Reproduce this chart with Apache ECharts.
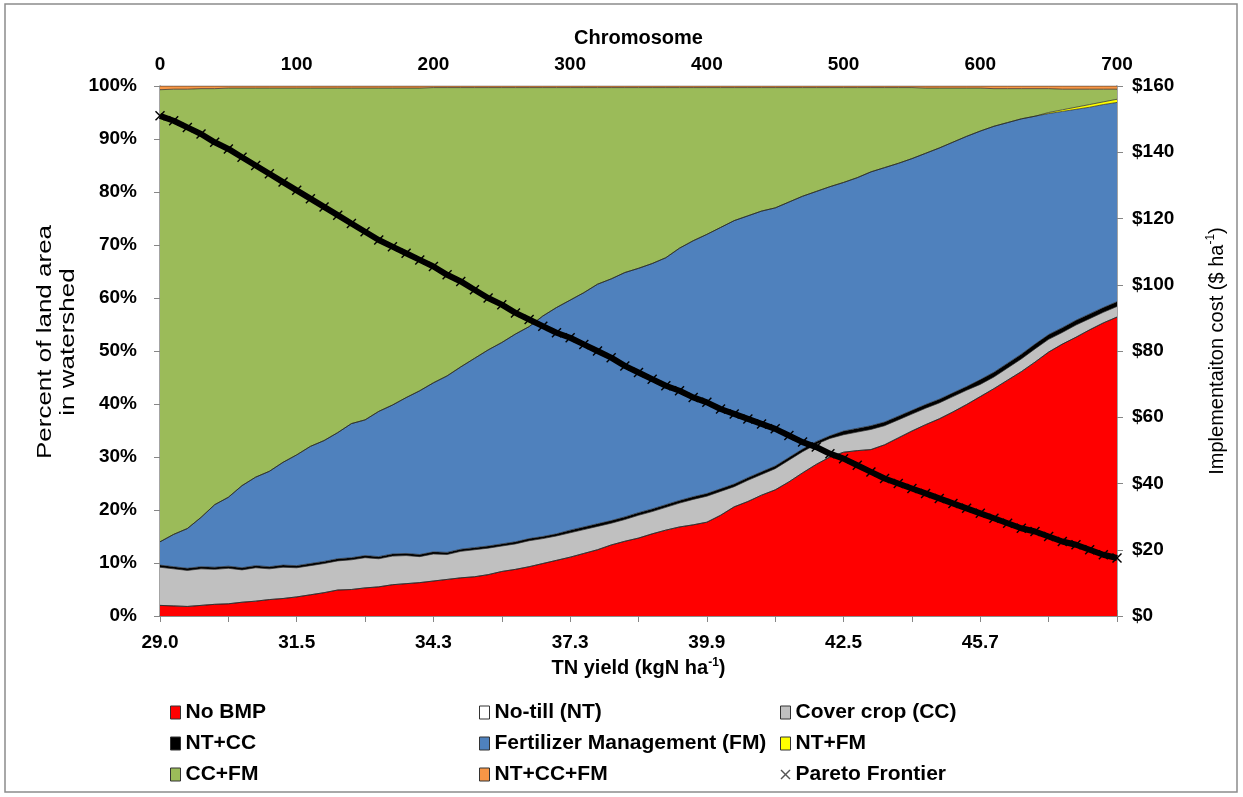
<!DOCTYPE html>
<html>
<head>
<meta charset="utf-8">
<title>BMP allocation along the Pareto frontier</title>
<script src="https://cdn.jsdelivr.net/npm/echarts@6/dist/echarts.min.js"></script>
<style>
  html, body { margin: 0; padding: 0; background: #fff; }
  #main { width: 1243px; height: 797px; }
</style>
</head>
<body>
<div id="main"></div>
<script>
// chromosome index (every 10th solution along the frontier)
var chromosome = [0, 10, 20, 30, 40, 50, 60, 70, 80, 90, 100, 110, 120, 130, 140, 150, 160, 170, 180, 190,
  200, 210, 220, 230, 240, 250, 260, 270, 280, 290, 300, 310, 320, 330, 340, 350, 360, 370, 380, 390,
  400, 410, 420, 430, 440, 450, 460, 470, 480, 490, 500, 510, 520, 530, 540, 550, 560, 570, 580, 590,
  600, 610, 620, 630, 640, 650, 660, 670, 680, 690, 700];

// TN yield labels shown under chromosome 0,100,...,600
var tnLabels = ['29.0', '31.5', '34.3', '37.3', '39.9', '42.5', '45.7'];

// percent of land area for each BMP
var noBMP = [2.0, 1.9, 1.8, 2.0, 2.2, 2.3, 2.6, 2.8, 3.1, 3.3, 3.6, 4.0, 4.4, 4.9, 5.0, 5.3, 5.5, 5.9, 6.1, 6.3,
  6.6, 6.9, 7.2, 7.4, 7.8, 8.4, 8.8, 9.3, 9.9, 10.5, 11.1, 11.8, 12.5, 13.4, 14.1, 14.7, 15.5, 16.2, 16.8, 17.2,
  17.7, 19.0, 20.6, 21.6, 22.8, 23.8, 25.3, 27.0, 28.6, 30.0, 30.9, 31.2, 31.4, 32.3, 33.6, 34.9, 36.1, 37.2, 38.5, 39.9,
  41.4, 42.9, 44.5, 46.1, 47.9, 49.8, 51.3, 52.6, 54.0, 55.3, 56.4];
var noTill = [0, 0, 0, 0, 0, 0, 0, 0, 0, 0, 0, 0, 0, 0, 0, 0, 0, 0, 0, 0,
  0, 0, 0, 0, 0, 0, 0, 0, 0, 0, 0, 0, 0, 0, 0, 0, 0, 0, 0, 0,
  0, 0, 0, 0, 0, 0, 0, 0, 0, 0, 0, 0, 0, 0, 0, 0, 0, 0, 0, 0,
  0, 0, 0, 0, 0, 0, 0, 0, 0, 0, 0];
var coverCrop = [7.2, 7.0, 6.8, 6.9, 6.6, 6.7, 6.1, 6.3, 5.8, 5.9, 5.5, 5.5, 5.5, 5.5, 5.6, 5.7, 5.3, 5.4, 5.3, 4.9,
  5.1, 4.7, 5.0, 5.1, 5.0, 4.8, 4.8, 4.9, 4.7, 4.6, 4.6, 4.5, 4.4, 4.1, 4.1, 4.3, 4.2, 4.3, 4.5, 4.8,
  4.9, 4.5, 3.8, 4.0, 3.9, 4.0, 4.1, 4.0, 3.8, 3.5, 3.3, 3.5, 3.8, 3.6, 3.4, 3.2, 3.1, 3.0, 2.9, 2.7,
  2.3, 2.2, 2.3, 2.4, 2.5, 2.4, 2.2, 2.3, 2.1, 2.0, 2.0];
var ntCC = [0.4, 0.4, 0.4, 0.4, 0.4, 0.4, 0.4, 0.4, 0.4, 0.4, 0.4, 0.4, 0.4, 0.4, 0.4, 0.4, 0.4, 0.4, 0.4, 0.4,
  0.4, 0.4, 0.4, 0.4, 0.4, 0.4, 0.4, 0.4, 0.4, 0.4, 0.5, 0.5, 0.5, 0.5, 0.5, 0.5, 0.5, 0.5, 0.5, 0.5,
  0.5, 0.5, 0.5, 0.5, 0.5, 0.5, 0.5, 0.5, 0.5, 0.5, 0.7, 0.7, 0.7, 0.7, 0.7, 0.7, 0.7, 0.7, 0.7, 0.7,
  0.9, 0.9, 0.9, 0.9, 0.9, 0.9, 0.9, 0.9, 0.9, 0.9, 0.9];
var fertMgmt = [4.4, 6.1, 7.5, 9.3, 11.8, 13.0, 15.5, 16.7, 18.0, 19.4, 20.9, 22.1, 22.8, 23.8, 25.3, 25.6, 27.4, 28.1, 29.4, 30.9,
  31.9, 33.3, 34.4, 35.7, 37.0, 38.0, 39.2, 40.0, 41.6, 42.7, 43.4, 44.2, 45.2, 45.6, 46.1, 46.1, 46.3, 46.6, 47.6, 48.3,
  48.9, 49.3, 49.7, 49.4, 49.2, 48.7, 48.2, 47.7, 47.2, 47.0, 46.9, 47.3, 47.9, 48.0, 47.7, 47.5, 47.4, 47.4, 47.3, 47.2,
  46.9, 46.4, 45.4, 44.4, 43.0, 41.7, 40.8, 39.8, 39.0, 38.3, 37.6];
var ntFM = [0, 0, 0, 0, 0, 0, 0, 0, 0, 0, 0, 0, 0, 0, 0, 0, 0, 0, 0, 0,
  0, 0, 0, 0, 0, 0, 0, 0, 0, 0, 0, 0, 0, 0, 0, 0, 0, 0, 0, 0,
  0, 0, 0, 0, 0, 0, 0, 0, 0, 0, 0, 0, 0, 0, 0, 0, 0, 0, 0, 0,
  0, 0, 0, 0, 0, 0.2, 0.3, 0.4, 0.5, 0.5, 0.6];
var ccFM = [85.3, 84.0, 82.9, 80.9, 78.5, 77.2, 75.0, 73.4, 72.3, 70.6, 69.2, 67.6, 66.5, 65.0, 63.3, 62.6, 61.0, 59.8, 58.4, 57.1,
  55.7, 54.4, 52.7, 51.1, 49.5, 48.1, 46.5, 45.1, 43.1, 41.5, 40.1, 38.7, 37.1, 36.1, 34.9, 34.1, 33.2, 32.1, 30.3, 28.9,
  27.7, 26.4, 25.1, 24.2, 23.3, 22.7, 21.6, 20.5, 19.6, 18.7, 17.9, 17.0, 15.9, 15.1, 14.3, 13.4, 12.3, 11.3, 10.2, 9.1,
  8.1, 7.1, 6.4, 5.7, 5.2, 4.5, 3.9, 3.4, 2.9, 2.4, 1.9];
var ntCCFM = [0.7, 0.6, 0.6, 0.5, 0.5, 0.4, 0.4, 0.4, 0.4, 0.4, 0.4, 0.4, 0.4, 0.4, 0.4, 0.4, 0.4, 0.4, 0.4, 0.4,
  0.3, 0.3, 0.3, 0.3, 0.3, 0.3, 0.3, 0.3, 0.3, 0.3, 0.3, 0.3, 0.3, 0.3, 0.3, 0.3, 0.3, 0.3, 0.3, 0.3,
  0.3, 0.3, 0.3, 0.3, 0.3, 0.3, 0.3, 0.3, 0.3, 0.3, 0.3, 0.3, 0.3, 0.3, 0.3, 0.3, 0.4, 0.4, 0.4, 0.4,
  0.4, 0.5, 0.5, 0.5, 0.5, 0.5, 0.6, 0.6, 0.6, 0.6, 0.6];

// implementation cost ($/ha) of each Pareto solution
var paretoCost = [151, 149.5, 147.5, 145.5, 143, 141, 138.5, 136, 133.5, 131, 128.5, 126, 123.5, 121, 118.5, 116, 113.5, 111.5, 109.5, 107.5,
  105.5, 103, 101, 98.5, 96, 94, 91.5, 89.5, 87.5, 85.5, 84, 82, 80, 78, 75.5, 73.5, 71.5, 69.5, 68, 66,
  64.5, 62.5, 61, 59.5, 58, 56.5, 54.5, 52.5, 51, 49, 47.5, 45.5, 43.5, 41.5, 40, 38.5, 37, 35.5, 34, 32.5,
  31, 29.5, 28, 26.5, 25.5, 24, 22.5, 21.5, 20, 18.5, 17.5];

var crossPath = 'path://M1,0 L5,4 L9,0 L10,1 L6,5 L10,9 L9,10 L5,6 L1,10 L0,9 L4,5 L0,1 Z';
var font = 'Liberation Sans';
var axisGrey = '#868686';

var myChart = echarts.init(document.getElementById('main'));

function areaSeries(name, data, color) {
    return {
        name: name,
        type: 'line',
        stack: 'land',
        data: data,
        symbol: 'none',
        smooth: false,
        itemStyle: { color: color },
        lineStyle: { color: '#222', width: 0.8, opacity: 0.85 },
        areaStyle: { color: color, opacity: 1 },
        emphasis: { disabled: true }
    };
}

var tickLabel = { fontFamily: font, fontWeight: 'bold', fontSize: 19, color: '#000' };
var legendText = { fontFamily: font, fontWeight: 'bold', fontSize: 21, color: '#000', lineHeight: 20 };

var option = {
    animation: false,
    backgroundColor: '#fff',
    graphic: [
        {
            type: 'rect',
            shape: { x: 5, y: 4, width: 1232, height: 788 },
            style: { fill: 'none', stroke: '#8c8c8c', lineWidth: 1.5 }
        },
        {
            // left axis title, stretched along the text like the original
            type: 'text',
            x: 57, y: 342,
            rotation: Math.PI / 2,
            scaleX: 1.3,
            style: {
                text: 'Percent of land area\nin watershed',
                fontFamily: font, fontSize: 20, lineHeight: 23,
                fill: '#000', align: 'center', verticalAlign: 'middle'
            }
        }
    ],
    grid: { left: 160, right: 126, top: 86, bottom: 181 },
    legend: [
        {
            orient: 'vertical', left: 165, top: 697, itemGap: 10,
            itemWidth: 10, itemHeight: 13, icon: 'rect',
            itemStyle: { borderColor: '#333', borderWidth: 1 },
            textStyle: legendText,
            data: ['No BMP', 'NT+CC', 'CC+FM']
        },
        {
            orient: 'vertical', left: 474, top: 697, itemGap: 10,
            itemWidth: 10, itemHeight: 13, icon: 'rect',
            itemStyle: { borderColor: '#333', borderWidth: 1 },
            textStyle: legendText,
            data: ['No-till (NT)', 'Fertilizer Management (FM)', 'NT+CC+FM']
        },
        {
            orient: 'vertical', left: 775, top: 697, itemGap: 10,
            itemWidth: 10, itemHeight: 13,
            itemStyle: { borderColor: '#333', borderWidth: 1 },
            textStyle: legendText,
            data: [
                { name: 'Cover crop (CC)', icon: 'rect' },
                { name: 'NT+FM', icon: 'rect' },
                { name: 'Pareto Frontier', icon: crossPath, itemStyle: { borderWidth: 0, color: '#555' } }
            ]
        }
    ],
    xAxis: [
        {
            type: 'category',
            data: chromosome,
            position: 'bottom',
            boundaryGap: false,
            name: '{b|TN yield (kgN ha}{s|-1}{b|)}',
            nameLocation: 'middle',
            nameGap: 35,
            nameTextStyle: {
                rich: {
                    b: { fontFamily: font, fontWeight: 'bold', fontSize: 20, color: '#000', lineHeight: 22, verticalAlign: 'bottom' },
                    s: { fontFamily: font, fontWeight: 'bold', fontSize: 12, color: '#000', lineHeight: 22, verticalAlign: 'top' }
                }
            },
            axisLine: { show: true, lineStyle: { color: axisGrey, width: 1.5 } },
            axisTick: {
                show: true, length: 6, lineStyle: { color: axisGrey },
                interval: function (i) { return i % 5 === 0; }
            },
            axisLabel: Object.assign({
                margin: 17,
                interval: function (i) { return i % 10 === 0 && i / 10 < tnLabels.length; },
                formatter: function (v, i) { return tnLabels[i / 10] || ''; }
            }, tickLabel),
            splitLine: { show: false }
        },
        {
            type: 'category',
            data: chromosome,
            position: 'top',
            boundaryGap: false,
            name: 'Chromosome',
            nameLocation: 'middle',
            nameGap: 38,
            nameTextStyle: { fontFamily: font, fontWeight: 'bold', fontSize: 20, color: '#000' },
            axisLine: { show: true, lineStyle: { color: axisGrey, width: 1.5 } },
            axisTick: {
                show: true, length: 6, lineStyle: { color: axisGrey },
                interval: function (i) { return i % 10 === 0; }
            },
            axisLabel: Object.assign({
                margin: 12,
                interval: function (i) { return i % 10 === 0; }
            }, tickLabel),
            splitLine: { show: false }
        }
    ],
    yAxis: [
        {
            type: 'value',
            min: 0, max: 100, interval: 10,
            axisLine: { show: true, lineStyle: { color: axisGrey, width: 1.5 } },
            axisTick: { show: true, length: 6, lineStyle: { color: axisGrey } },
            axisLabel: Object.assign({ margin: 23, formatter: '{value}%' }, tickLabel),
            splitLine: { show: false }
        },
        {
            type: 'value',
            min: 0, max: 160, interval: 20,
            position: 'right',
            name: '{a|Implementaiton cost ($ ha}{s|-1}{a|)}',
            nameLocation: 'middle',
            nameGap: 88,
            nameRotate: 90,
            nameTextStyle: {
                rich: {
                    a: { fontFamily: font, fontSize: 20, color: '#000', lineHeight: 22, verticalAlign: 'bottom' },
                    s: { fontFamily: font, fontSize: 12, color: '#000', lineHeight: 22, verticalAlign: 'top' }
                }
            },
            axisLine: { show: true, lineStyle: { color: axisGrey, width: 1.5 } },
            axisTick: { show: true, length: 6, lineStyle: { color: axisGrey } },
            axisLabel: Object.assign({ margin: 15, formatter: '${value}' }, tickLabel),
            splitLine: { show: false }
        }
    ],
    series: [
        areaSeries('No BMP', noBMP, '#FF0000'),
        areaSeries('No-till (NT)', noTill, '#FFFFFF'),
        areaSeries('Cover crop (CC)', coverCrop, '#C0C0C0'),
        areaSeries('NT+CC', ntCC, '#000000'),
        areaSeries('Fertilizer Management (FM)', fertMgmt, '#4F81BD'),
        areaSeries('NT+FM', ntFM, '#FFFF00'),
        areaSeries('CC+FM', ccFM, '#9BBB59'),
        areaSeries('NT+CC+FM', ntCCFM, '#F79646'),
        {
            name: 'Pareto Frontier',
            type: 'line',
            yAxisIndex: 1,
            data: paretoCost,
            symbol: crossPath,
            symbolSize: 10,
            showSymbol: true,
            showAllSymbol: true,
            itemStyle: { color: '#000' },
            lineStyle: { color: '#000', width: 6 },
            z: 5,
            emphasis: { disabled: true }
        }
    ]
};

myChart.setOption(option);
</script>
</body>
</html>
